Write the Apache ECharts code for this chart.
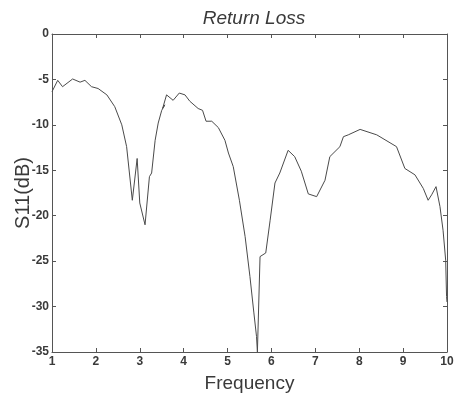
<!DOCTYPE html>
<html>
<head>
<meta charset="utf-8">
<script src="https://cdn.jsdelivr.net/npm/echarts@6/dist/echarts.min.js"></script>
<style>
  html, body { margin: 0; padding: 0; background: #fff; }
  #chart { width: 456px; height: 394px; }
</style>
</head>
<body>
<div id="chart"></div>
<script>
// frequency (GHz) and S11 (dB)
const freq = [
  1.0, 1.13, 1.24, 1.47, 1.64, 1.75, 1.9, 2.05, 2.25, 2.43, 2.59, 2.7, 2.83, 2.94, 3.0, 3.12,
  3.22, 3.27, 3.35, 3.42, 3.5, 3.57, 3.52, 3.61, 3.76, 3.9, 4.03, 4.14, 4.33, 4.43, 4.51, 4.64,
  4.79, 4.94, 5.02, 5.13, 5.27, 5.4, 5.51, 5.6, 5.66, 5.68, 5.74, 5.87, 5.97, 6.08, 6.19, 6.38,
  6.53, 6.68, 6.84, 7.03, 7.22, 7.33, 7.56, 7.64, 7.75, 8.02, 8.4, 8.85, 9.04, 9.27, 9.46, 9.57,
  9.65, 9.75, 9.84, 9.91, 9.97, 9.99, 10.0
];
const s11 = [
  -6.35, -5.1, -5.8, -4.95, -5.3, -5.1, -5.8, -6.0, -6.7, -8.0, -10.0, -12.4, -18.3, -13.7, -18.6, -21.0,
  -15.7, -15.3, -11.7, -9.8, -8.4, -7.8, -8.2, -6.7, -7.3, -6.5, -6.7, -7.4, -8.2, -8.4, -9.6, -9.6,
  -10.3, -11.7, -13.1, -14.6, -18.3, -22.3, -26.7, -30.7, -33.3, -35.0, -24.5, -24.1, -20.5, -16.4, -15.3, -12.8,
  -13.5, -15.1, -17.6, -17.9, -16.1, -13.5, -12.4, -11.3, -11.1, -10.5, -11.1, -12.4, -14.8, -15.5, -17.0, -18.3,
  -17.7, -16.8, -19.0, -21.6, -24.9, -28.9, -29.5
];

const TEXT = '#3a3a3a';
const FRAME = '#555';

const chart = echarts.init(document.getElementById('chart'));

const tickSide = (show) => ({
  axisLine: { show: true, onZero: false, lineStyle: { color: FRAME, width: 1 } },
  axisTick: { show: true, inside: true, length: 4, lineStyle: { color: FRAME } },
  axisLabel: { show },
  splitLine: { show: false },
});

chart.setOption({
  animation: false,
  title: {
    text: 'Return Loss',
    left: 249,
    top: 4,
    textAlign: 'center',
    textStyle: { fontFamily: 'Liberation Sans', fontStyle: 'italic', fontWeight: 'normal', fontSize: 19, color: TEXT },
  },
  grid: { left: 52, right: 9, top: 34, bottom: 42, outerBoundsMode: 'none' },
  xAxis: [
    {
      type: 'value', min: 1, max: 10, interval: 1, position: 'bottom',
      name: 'Frequency', nameLocation: 'middle', nameGap: 22, nameMoveOverlap: false,
      nameTextStyle: { fontFamily: 'Liberation Sans', fontSize: 19, color: TEXT },
      ...tickSide(true),
      axisLabel: { margin: 4, fontFamily: 'Liberation Sans', fontWeight: 'bold', fontSize: 12, color: TEXT },
    },
    { type: 'value', min: 1, max: 10, interval: 1, position: 'top', ...tickSide(false) },
  ],
  yAxis: [
    {
      type: 'value', min: -35, max: 0, interval: 5, position: 'left',
      name: 'S11(dB)', nameLocation: 'middle', nameGap: 19, nameMoveOverlap: false,
      nameTextStyle: { fontFamily: 'Liberation Sans', fontSize: 20, color: TEXT },
      ...tickSide(true),
      axisLabel: { margin: 3, fontFamily: 'Liberation Sans', fontWeight: 'bold', fontSize: 12, color: TEXT },
    },
    { type: 'value', min: -35, max: 0, interval: 5, position: 'right', ...tickSide(false) },
  ],
  series: [{
    type: 'line',
    data: freq.map((f, i) => [f, s11[i]]),
    showSymbol: false,
    lineStyle: { color: '#4a4a4a', width: 1 },
  }],
});
</script>
</body>
</html>
